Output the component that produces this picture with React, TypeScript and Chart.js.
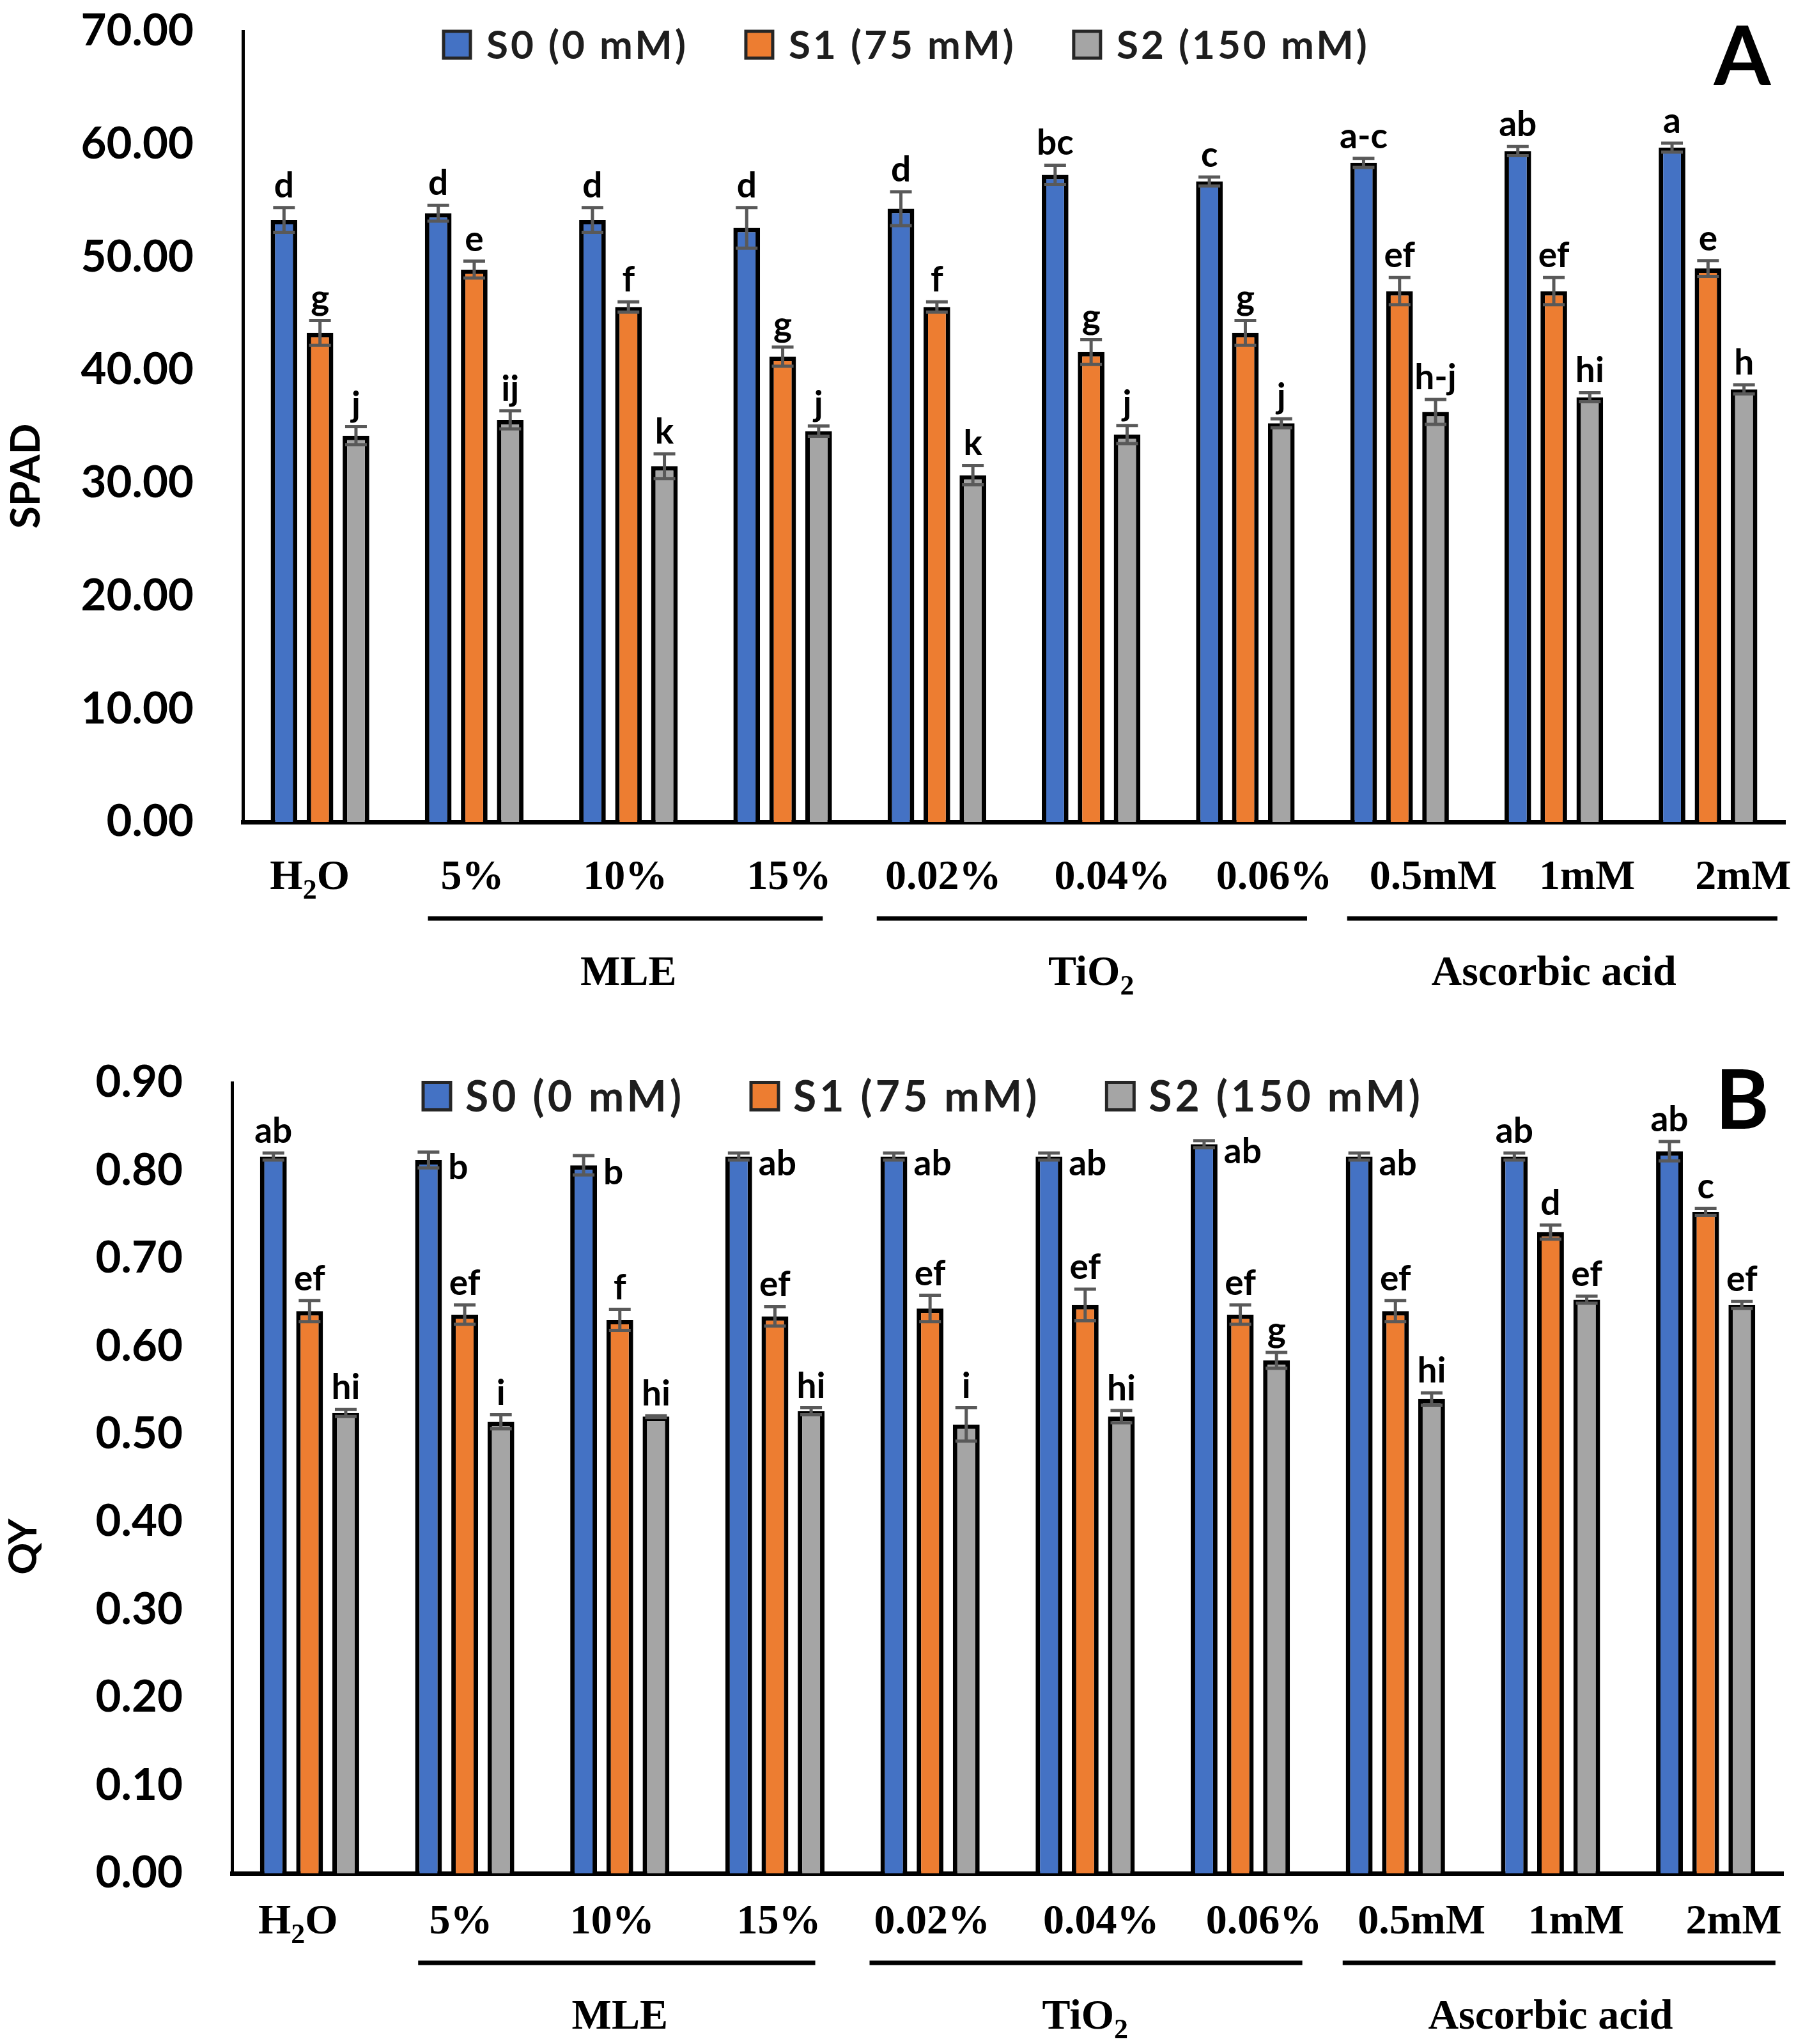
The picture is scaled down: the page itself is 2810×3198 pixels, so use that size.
import React, { useEffect, useRef } from "react";
import { Chart, registerables } from "chart.js";
Chart.register(...registerables);

// ---------- DATA ----------
const treatments = ["H₂O", "5%", "10%", "15%", "0.02%", "0.04%", "0.06%", "0.5mM", "1mM", "2mM"];
const groupNames = ["MLE", "TiO₂", "Ascorbic acid"];
const groupFirst = [1, 4, 7];
const groupLast = [3, 6, 9];
const seriesNames = ["S0 (0 mM)", "S1 (75 mM)", "S2 (150 mM)"];

const spadS0 = [53.3, 53.9, 53.3, 52.6, 54.3, 57.3, 56.7, 58.35, 59.4, 59.7];
const spadS1 = [43.3, 48.9, 45.6, 41.2, 45.6, 41.6, 43.3, 47.0, 47.0, 49.0];
const spadS2 = [34.2, 35.6, 31.5, 34.6, 30.7, 34.3, 35.3, 36.3, 37.6, 38.3];
const spadS0Err = [1.1, 0.7, 1.1, 1.8, 1.5, 0.85, 0.4, 0.4, 0.4, 0.4];
const spadS1Err = [1.1, 0.75, 0.45, 0.85, 0.45, 1.1, 1.1, 1.2, 1.2, 0.7];
const spadS2Err = [0.8, 0.8, 1.1, 0.45, 0.85, 0.8, 0.4, 1.1, 0.4, 0.4];
const spadS0Letters = ["d", "d", "d", "d", "d", "bc", "c", "a-c", "ab", "a"];
const spadS1Letters = ["g", "e", "f", "g", "f", "g", "g", "ef", "ef", "e"];
const spadS2Letters = ["j", "ij", "k", "j", "k", "j", "j", "h-j", "hi", "h"];

const qyS0 = [0.816, 0.812, 0.806, 0.816, 0.816, 0.816, 0.83, 0.816, 0.816, 0.822];
const qyS1 = [0.64, 0.636, 0.63, 0.634, 0.643, 0.647, 0.636, 0.64, 0.73, 0.753];
const qyS2 = [0.524, 0.514, 0.52, 0.526, 0.511, 0.52, 0.584, 0.54, 0.653, 0.647];
const qyS0Err = [0.004, 0.009, 0.011, 0.004, 0.004, 0.004, 0.004, 0.004, 0.004, 0.011];
const qyS1Err = [0.012, 0.011, 0.012, 0.011, 0.015, 0.018, 0.011, 0.012, 0.008, 0.004];
const qyS2Err = [0.004, 0.008, 0.001, 0.004, 0.019, 0.007, 0.009, 0.007, 0.004, 0.004];
const qyS0Letters = ["ab", "b", "b", "ab", "ab", "ab", "ab", "ab", "ab", "ab"];
const qyS1Letters = ["ef", "ef", "f", "ef", "ef", "ef", "ef", "ef", "d", "c"];
const qyS2Letters = ["hi", "i", "hi", "hi", "i", "hi", "g", "hi", "ef", "ef"];

// ---------- LAYOUT / STYLE ----------
const W = 2810;
const H = 1599;
const COLORS = ["#4472C4", "#ED7D31", "#A5A5A5"];
const SANS = "Lato, 'Open Sans', sans-serif";
const SERIF = "'Liberation Serif', 'Times New Roman', serif";
const groupLineStart = [-0.3, -0.39, -0.34];
const groupLineEnd = [0.26, 0.4, 0.45];
const ALL_TOP = treatments.map(() => "top");
const qyS0Placement = ["top", "right", "right", "right", "right", "right", "right", "right", "top", "top"];

type PanelCfg = {
  values: number[][];
  errors: number[][];
  letters: string[][];
  placements: string[][];
  yMax: number;
  yStep: number;
  decimals: number;
  yTitle: string;
  panelLetter: string;
  area: { left: number; top: number; right: number; bottom: number };
  tickLabelDy: number;
  lineDy: number;
  groupLabelDy: number;
  tickOffsets: number[];
  legend: { x: number; y: number; size: number; spacing: number; box: number; textGap: number; itemGap: number };
  panelLetterBaseline: number;
  yTitlePos: { x: number; y: number; size: number };
};

const panelA: PanelCfg = {
  values: [spadS0, spadS1, spadS2],
  errors: [spadS0Err, spadS1Err, spadS2Err],
  letters: [spadS0Letters, spadS1Letters, spadS2Letters],
  placements: [ALL_TOP, ALL_TOP, ALL_TOP],
  yMax: 70,
  yStep: 10,
  decimals: 2,
  yTitle: "SPAD",
  panelLetter: "A",
  area: { left: 380, top: 49, right: 2793, bottom: 1286 },
  tickLabelDy: 105,
  lineDy: 151,
  groupLabelDy: 255,
  tickOffsets: [-16, -3, -5, 10, 10, 33, 45, 53, 52, 55],
  legend: { x: 694, y: 70, size: 62, spacing: 4, box: 42, textGap: 25, itemGap: 90 },
  panelLetterBaseline: 133,
  yTitlePos: { x: 41, y: 745, size: 64 },
};

const panelB: PanelCfg = {
  values: [qyS0, qyS1, qyS2],
  errors: [qyS0Err, qyS1Err, qyS2Err],
  letters: [qyS0Letters, qyS1Letters, qyS2Letters],
  placements: [qyS0Placement, ALL_TOP, ALL_TOP],
  yMax: 0.9,
  yStep: 0.1,
  decimals: 2,
  yTitle: "QY",
  panelLetter: "B",
  area: { left: 363, top: 95, right: 2790, bottom: 1332 },
  tickLabelDy: 94,
  lineDy: 140,
  groupLabelDy: 243,
  tickOffsets: [-18, -6, -12, 6, 3, 25, 37, 41, 40, 44],
  legend: { x: 662, y: 116, size: 66, spacing: 5, box: 43, textGap: 23, itemGap: 104 },
  panelLetterBaseline: 167,
  yTitlePos: { x: 37, y: 821, size: 62 },
};

function drawRich(ctx: CanvasRenderingContext2D, text: string, x: number, y: number, size: number, family: string) {
  const segs: { t: string; sub: boolean; w: number }[] = [];
  for (const ch of text) {
    const sub = ch === "₂";
    const c = sub ? "2" : ch;
    const last = segs[segs.length - 1];
    if (last && last.sub === sub) last.t += c;
    else segs.push({ t: c, sub, w: 0 });
  }
  const fontFor = (sub: boolean) => `bold ${sub ? Math.round(size * 0.66) : size}px ${family}`;
  let total = 0;
  segs.forEach((s) => {
    ctx.font = fontFor(s.sub);
    s.w = ctx.measureText(s.t).width;
    total += s.w;
  });
  let cx = x - total / 2;
  ctx.textAlign = "left";
  ctx.textBaseline = "alphabetic";
  segs.forEach((s) => {
    ctx.font = fontFor(s.sub);
    ctx.fillText(s.t, cx, y + (s.sub ? size * 0.23 : 0));
    cx += s.w;
  });
}

function makePlugin(cfg: PanelCfg) {
  return {
    id: "panelDecor",
    afterDatasetsDraw(chart: any) {
      const ctx: CanvasRenderingContext2D = chart.ctx;
      const y = chart.scales.y;
      ctx.save();
      chart.data.datasets.forEach((ds: any, di: number) => {
        const meta = chart.getDatasetMeta(di);
        meta.data.forEach((bar: any, i: number) => {
          const v = ds.data[i];
          const e = ds.errors[i];
          const yt = y.getPixelForValue(v + e);
          const yb = y.getPixelForValue(v - e);
          ctx.strokeStyle = "#595959";
          ctx.lineWidth = 5;
          ctx.beginPath();
          ctx.moveTo(bar.x, yt);
          ctx.lineTo(bar.x, yb);
          ctx.moveTo(bar.x - 17, yt);
          ctx.lineTo(bar.x + 17, yt);
          ctx.moveTo(bar.x - 17, yb);
          ctx.lineTo(bar.x + 17, yb);
          ctx.stroke();
          ctx.fillStyle = "#000";
          ctx.font = `bold 55px ${SANS}`;
          ctx.textBaseline = "alphabetic";
          if (ds.placements[i] === "right") {
            ctx.textAlign = "left";
            ctx.fillText(ds.letters[i], bar.x + bar.width / 2 + 10, y.getPixelForValue(v) + 30);
          } else {
            ctx.textAlign = "center";
            ctx.fillText(ds.letters[i], bar.x, yt - 16);
          }
        });
      });
      ctx.restore();
    },
    afterDraw(chart: any) {
      const ctx: CanvasRenderingContext2D = chart.ctx;
      const x = chart.scales.x;
      const area = chart.chartArea;
      const catW = (area.right - area.left) / treatments.length;
      ctx.save();
      ctx.fillStyle = "#000";
      // x tick labels
      chart.data.labels.forEach((lab: string, i: number) => {
        drawRich(ctx, lab, x.getPixelForValue(i) + cfg.tickOffsets[i], area.bottom + cfg.tickLabelDy, 66, SERIF);
      });
      // group lines + labels
      groupNames.forEach((g, k) => {
        const x0 = x.getPixelForValue(groupFirst[k]) + groupLineStart[k] * catW;
        const x1 = x.getPixelForValue(groupLast[k]) + groupLineEnd[k] * catW;
        ctx.strokeStyle = "#000";
        ctx.lineWidth = 7;
        ctx.beginPath();
        ctx.moveTo(x0, area.bottom + cfg.lineDy);
        ctx.lineTo(x1, area.bottom + cfg.lineDy);
        ctx.stroke();
        const mid = x.getPixelForValue((groupFirst[k] + groupLast[k]) / 2);
        drawRich(ctx, g, mid, area.bottom + cfg.groupLabelDy, 66, SERIF);
      });
      // legend
      const L = cfg.legend;
      let lx = L.x;
      chart.data.datasets.forEach((ds: any) => {
        ctx.fillStyle = ds.backgroundColor;
        ctx.fillRect(lx, L.y - L.box / 2, L.box, L.box);
        ctx.strokeStyle = "#262626";
        ctx.lineWidth = 5;
        ctx.strokeRect(lx, L.y - L.box / 2, L.box, L.box);
        ctx.fillStyle = "#1e1e1e";
        ctx.font = `bold ${L.size}px ${SANS}`;
        (ctx as any).letterSpacing = `${L.spacing}px`;
        ctx.textAlign = "left";
        ctx.textBaseline = "alphabetic";
        const tx = lx + L.box + L.textGap;
        ctx.fillText(ds.label, tx, L.y + L.size * 0.36);
        const tw = ctx.measureText(ds.label).width;
        (ctx as any).letterSpacing = "0px";
        lx = tx + tw + L.itemGap;
      });
      // panel letter
      ctx.fillStyle = "#000";
      ctx.font = `bold 128px ${SANS}`;
      ctx.textAlign = "center";
      ctx.textBaseline = "alphabetic";
      ctx.fillText(cfg.panelLetter, 2726, cfg.panelLetterBaseline);
      // y title
      ctx.save();
      ctx.translate(cfg.yTitlePos.x, cfg.yTitlePos.y);
      ctx.rotate(-Math.PI / 2);
      ctx.font = `bold ${cfg.yTitlePos.size}px ${SANS}`;
      ctx.textAlign = "center";
      ctx.textBaseline = "middle";
      ctx.fillText(cfg.yTitle, 0, 0);
      ctx.restore();
      ctx.restore();
    },
  };
}

function Panel({ cfg }: { cfg: PanelCfg }) {
  const ref = useRef<HTMLCanvasElement | null>(null);
  useEffect(() => {
    if (!ref.current) return;
    const a = cfg.area;
    const chart = new Chart(ref.current, {
      type: "bar",
      data: {
        labels: treatments,
        datasets: seriesNames.map((n, k) => ({
          label: n,
          data: cfg.values[k],
          backgroundColor: COLORS[k],
          borderColor: "#000",
          borderWidth: 7,
          categoryPercentage: 0.7,
          barPercentage: 0.74,
          errors: cfg.errors[k],
          letters: cfg.letters[k],
          placements: cfg.placements[k],
        })) as any,
      },
      options: {
        responsive: false,
        animation: false,
        devicePixelRatio: 1,
        layout: { padding: { left: 0, top: a.top, right: W - a.right, bottom: 0 } },
        plugins: { legend: { display: false }, tooltip: { enabled: false } },
        scales: {
          x: {
            grid: { display: false, drawTicks: false },
            border: { color: "#000", width: 7 },
            ticks: { display: false },
            afterFit: (s: any) => {
              s.height = H - a.bottom;
              s.paddingLeft = 0;
              s.paddingRight = 0;
            },
          },
          y: {
            min: 0,
            max: cfg.yMax,
            grid: { display: false, drawTicks: false },
            border: { color: "#000", width: 5 },
            ticks: {
              stepSize: cfg.yStep,
              padding: 77,
              color: "#000",
              font: { family: SANS, weight: "bold", size: 69 },
              callback: (v: any) => Number(v).toFixed(cfg.decimals),
            },
            afterFit: (s: any) => {
              s.width = a.left;
              s.paddingTop = 0;
              s.paddingBottom = 0;
            },
          },
        },
      } as any,
      plugins: [makePlugin(cfg)],
    });
    return () => chart.destroy();
  }, [cfg]);
  return <canvas ref={ref} width={W} height={H} style={{ display: "block", width: W, height: H }} />;
}

export default function App() {
  return (
    <div style={{ position: "absolute", left: 0, top: 0, width: W, height: 2 * H, background: "#fff" }}>
      <Panel cfg={panelA} />
      <Panel cfg={panelB} />
    </div>
  );
}
